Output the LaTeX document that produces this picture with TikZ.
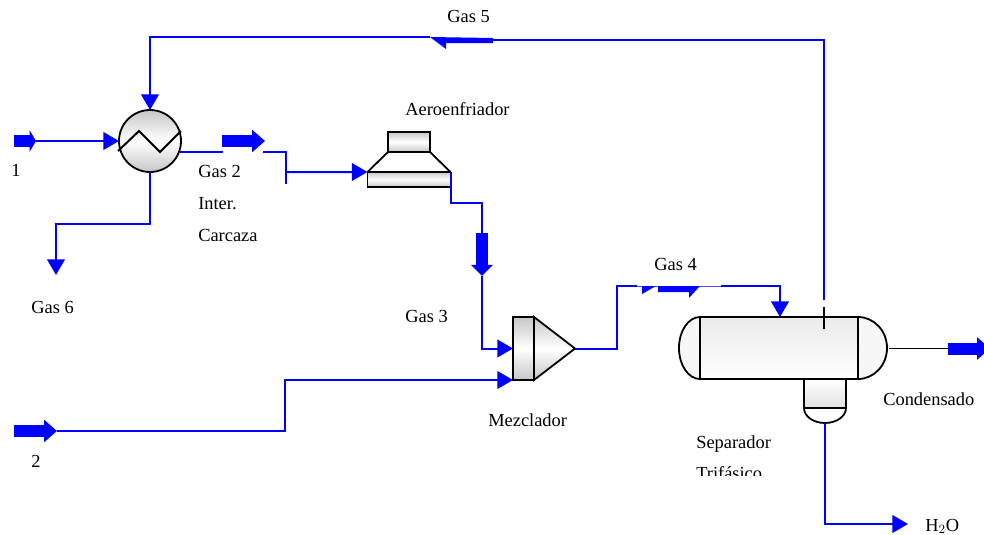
\documentclass[tikz,border=0pt]{standalone}
\usepackage{fontspec}
\setmainfont{Liberation Serif}
\usepackage{tikz}
\usetikzlibrary{arrows.meta, shapes.geometric}
\definecolor{flowblue}{RGB}{0,0,255}
\tikzset{flow/.style = {draw=flowblue, line width=0.5mm}}
\tikzset{flowthin/.style = {draw=flowblue!70, line width=0.2mm}}
\tikzset{flowin/.style = {flow, -{Triangle[length=3.9mm, width=4.4mm]}}}
\tikzset{fatflow/.style = {draw=flowblue, line width=3mm, -{Triangle[length=#1, width=5.4mm]}}, fatflow/.default=3.2mm}
\tikzset{halfhead/.style = {fill=flowblue}}
\tikzset{unit/.style = {draw, line width=0.45mm, inner sep=0pt, outer sep=0pt}}
\tikzset{shadeh/.style = {top color=black!22, bottom color=black!22, middle color=white}}
\tikzset{mylabel/.style = {anchor=base west, inner sep=0pt, font=\fontsize{13.1pt}{14pt}\selectfont}}

\begin{document}
\begin{tikzpicture}[x=0.25mm, y=-0.25mm]
    \useasboundingbox (0,0) rectangle (984,534);

    % equipment
    \node[unit, shadeh, circle, minimum size=15.5mm] (HX) at (150, 141) {};
    \draw[line width=0.5mm] (118,151) -- (139,131) -- (160,152) -- (181,131);

    \node[unit, shadeh, minimum width=10.5mm, minimum height=5mm] (FANTOP) at (409, 142) {};
    \node[unit, shadeh, minimum width=20.75mm, minimum height=3.75mm] (FANBOT) at (409, 179.5) {};
    \draw[line width=0.45mm] (FANTOP.south west) -- (FANBOT.north west);
    \draw[line width=0.45mm] (FANTOP.south east) -- (FANBOT.north east);

    \node[unit, shadeh, minimum width=5.25mm, minimum height=15.75mm] (MIXBOX) at (523.5, 348.5) {};
    \draw[unit, shadeh] (MIXBOX.north east) -- (575,348.5) coordinate (MIXOUT) -- (MIXBOX.south east) -- cycle;

    \draw[unit, fill=black!3] (700,317) arc[start angle=-90, end angle=-270, x radius=21, y radius=31] -- cycle;
    \draw[unit, fill=black!3] (858,317) arc[start angle=-90, end angle=90, x radius=29, y radius=31] -- cycle;
    \node[unit, top color=black!8, bottom color=white, minimum width=39.5mm, minimum height=15.5mm] (SEP) at (779, 348) {};
    \node[unit, top color=white, bottom color=black!12, minimum width=10.5mm, minimum height=7.25mm] (BOOT) at (825, 393.5) {};
    \draw[unit, fill=white] (BOOT.south west) arc[start angle=180, end angle=0, x radius=21, y radius=15] -- cycle;
    \coordinate (BOOTOUT) at (825, 423);
    \draw[line width=0.45mm] (824,307) -- (824,329);

    % stream 1 and gas 6
    \coordinate (IN1) at (36, 141);
    \coordinate (FATA) at (14, 141);
    \draw[fatflow=1.6mm] (FATA) -- (IN1);
    \draw[flowin] (IN1) -- (HX.west);
    \coordinate (GAS6) at (56, 275);
    \draw[flowin] (HX.south) |- (56,224) -- (GAS6);

    % gas 2
    \coordinate (GAS2A) at (223, 152);
    \coordinate (GAS2B) at (263, 152);
    \coordinate (FATB) at (222, 141);
    \coordinate (FATBEND) at (265, 141);
    \coordinate (KNEE) at (286, 184);
    \draw[flow] (180,152) coordinate (HXOUT) -- (GAS2A);
    \draw[fatflow] (FATB) -- (FATBEND);
    \draw[flow] (GAS2B) -| (KNEE);
    \draw[flowin] (286,172) coordinate (KNEEIN) -- (FANBOT.north west);

    % gas 3
    \coordinate (FATC) at (482, 233);
    \coordinate (FATCEND) at (482, 276);
    \draw[flow] (FANBOT.north east) |- (482,203) -- (FATC);
    \draw[fatflow=2.8mm] (FATC) -- (FATCEND);
    \draw[flowin] (FATCEND) |- (MIXBOX.west);

    % stream 2
    \coordinate (FATD) at (14, 431);
    \coordinate (FATDEND) at (57, 431);
    \draw[fatflow] (FATD) -- (FATDEND);
    \draw[flowin] (FATDEND) -- (285,431) |- (MIXBOX.south west);

    % gas 4
    \coordinate (GAS4A) at (637, 286);
    \coordinate (GAS4B) at (721, 286);
    \draw[flow] (MIXOUT) -- (617,348.5) |- (GAS4A);
    \draw[flowthin] (GAS4A) -- (GAS4B);
    \draw[flowin] (GAS4B) -| (780,317) coordinate (SEPIN);
    \fill[halfhead] (642,286) -- (656,286) -- (642,294) -- cycle;
    \fill[halfhead] (658,286) -- (700,286) -- (689,298) -- (689,292) -- (658,292) -- cycle;

    % gas 5
    \coordinate (GAS5A) at (824, 300);
    \coordinate (GAS5B) at (493, 40);
    \coordinate (GAS5C) at (430, 37);
    \draw[flow] (GAS5A) |- (GAS5B);
    \draw[flowin] (GAS5C) -| (HX.north);
    \fill[halfhead] (GAS5C) -- (446,49) -- (446,43) -- (493,43) -- (493,38) -- cycle;

    % condensate and water
    \coordinate (COND) at (948, 348.5);
    \coordinate (CONDEND) at (990, 348.5);
    \coordinate (SEPOUT) at (889, 348.5);
    \draw[line width=0.45mm] (SEPOUT) -- (COND);
    \draw[fatflow] (COND) -- (CONDEND);
    \coordinate (WATER) at (908, 524);
    \draw[flowin] (BOOTOUT) |- (WATER);

    % labels
    \node[mylabel] (L5) at (447, 22) {Gas 5};
    \node[mylabel] (L1) at (11, 176) {1};
    \node[mylabel] (L2) at (198, 177) {Gas 2};
    \node[mylabel] (L2B) at (198, 209) {Inter.};
    \node[mylabel] (L2C) at (198, 241) {Carcaza};
    \node[mylabel] (LA) at (405, 115) {Aeroenfriador};
    \node[mylabel] (L6) at (31, 313) {Gas 6};
    \node[mylabel] (L3) at (405, 322) {Gas 3};
    \node[mylabel] (L4) at (654, 270) {Gas 4};
    \node[mylabel] (LM) at (488, 426) {Mezclador};
    \node[mylabel] (LC) at (883, 405) {Condensado};
    \node[mylabel] (LS) at (696, 448) {Separador};
    \node[mylabel] (LN) at (31, 467) {2};
    \node[mylabel] (LH) at (925, 531) {H$_2$O};
    \begin{scope}
        \clip (690,460) rectangle (780,475);
        \node[mylabel] (LT) at (696, 479) {Trifásico};
    \end{scope}
\end{tikzpicture}
\end{document}
